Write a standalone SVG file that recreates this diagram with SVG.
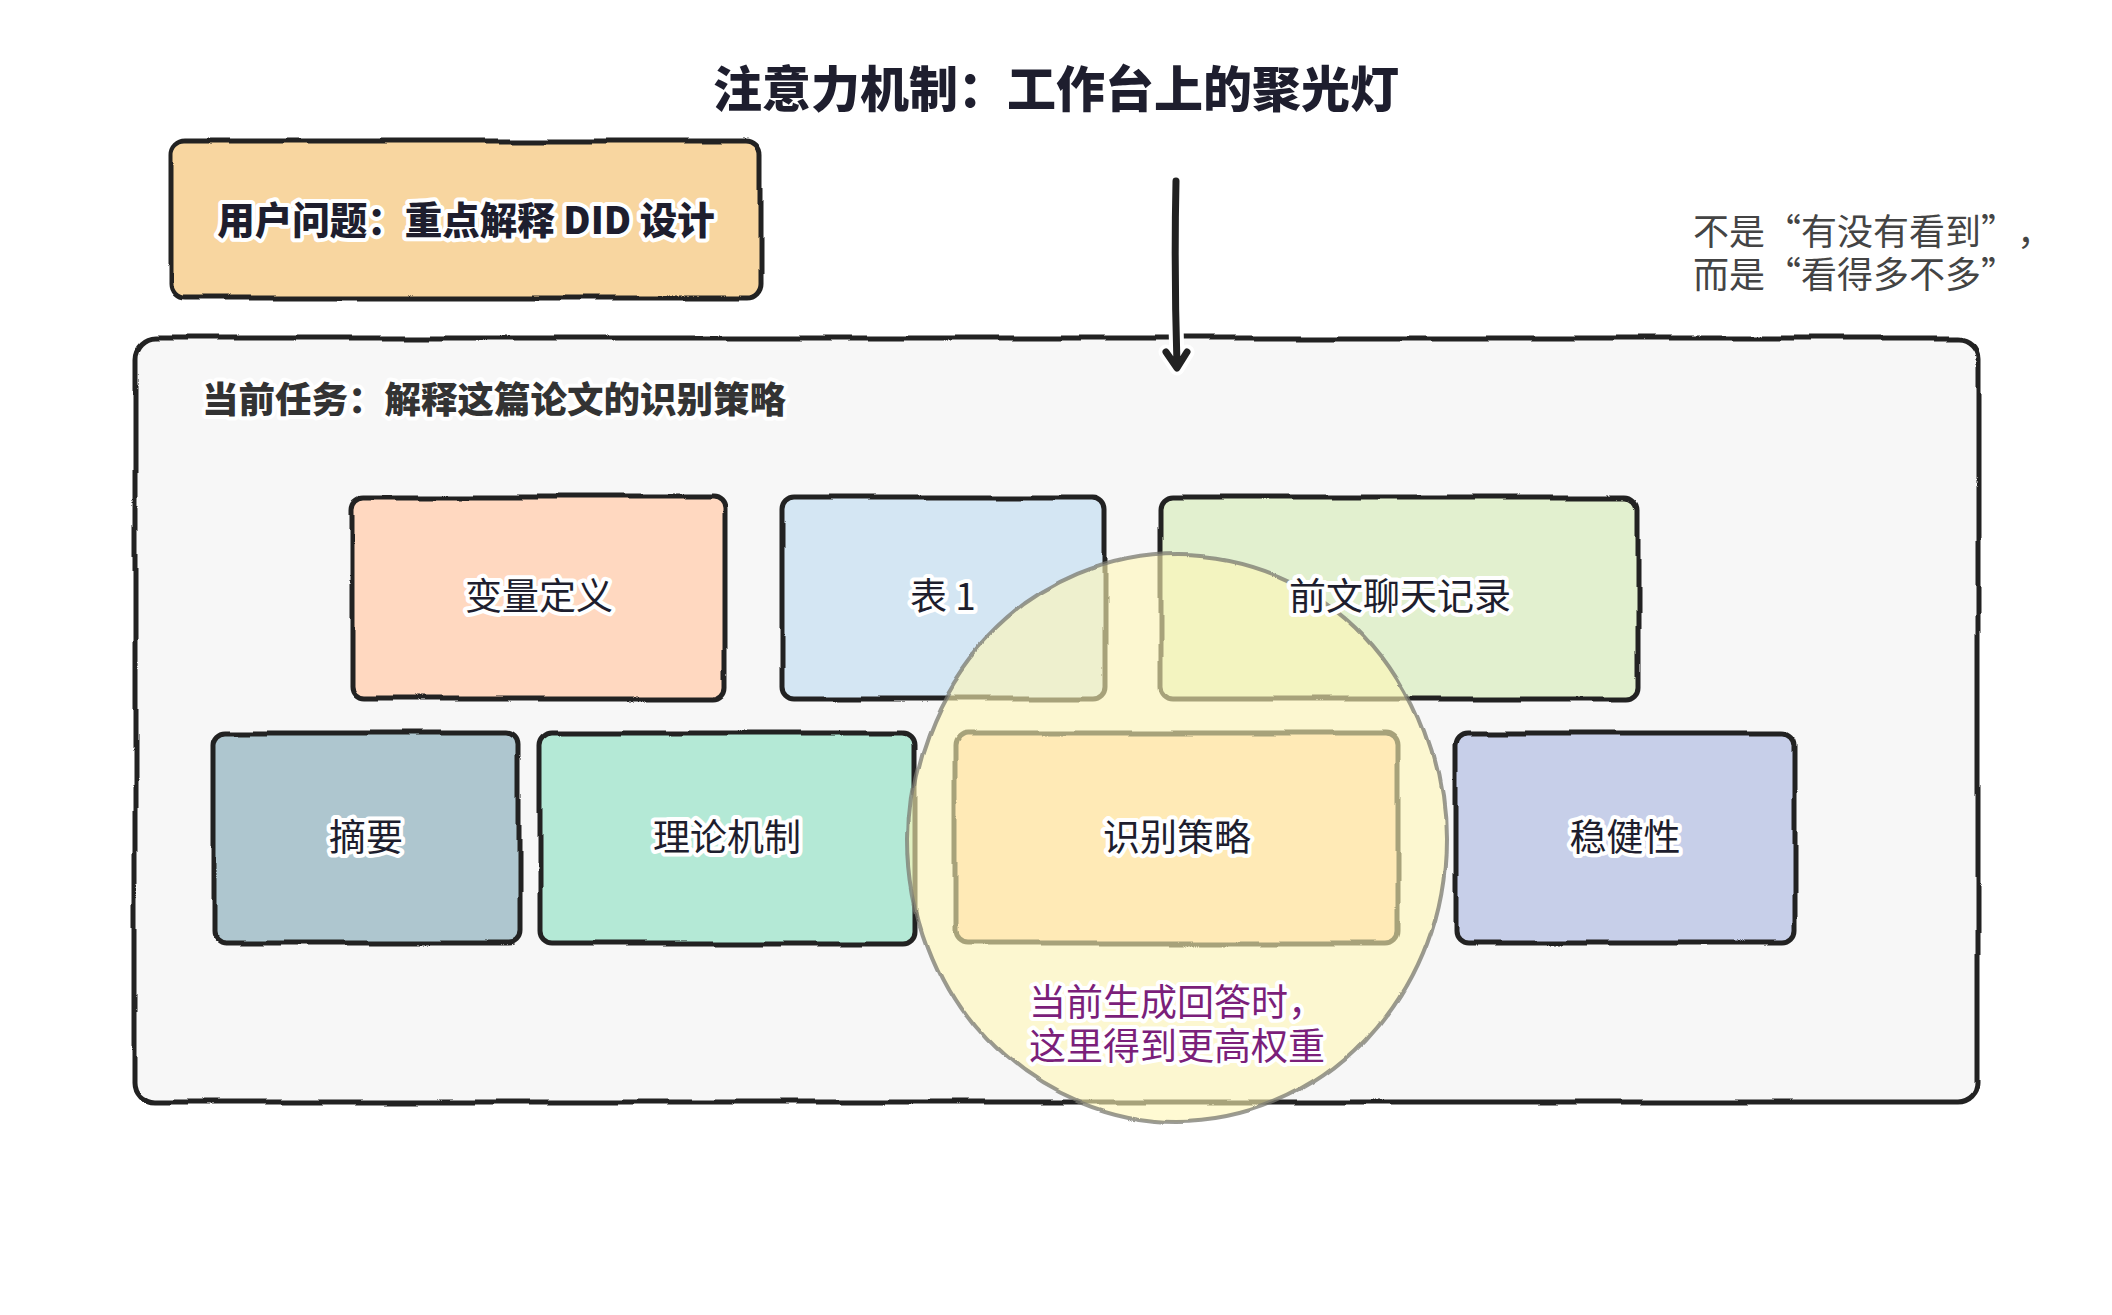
<svg xmlns="http://www.w3.org/2000/svg" xmlns:xlink="http://www.w3.org/1999/xlink" width="2112" height="1315" viewBox="0 0 2112 1315">
  <defs>
    <filter id="rough" filterUnits="userSpaceOnUse" x="0" y="0" width="2112" height="1315">
      <feTurbulence type="fractalNoise" baseFrequency="0.011" numOctaves="2" seed="4" result="n"/>
      <feDisplacementMap in="SourceGraphic" in2="n" scale="7" xChannelSelector="R" yChannelSelector="G"/>
    </filter>
    <filter id="rough2" filterUnits="userSpaceOnUse" x="0" y="0" width="2112" height="1315">
      <feTurbulence type="fractalNoise" baseFrequency="0.006" numOctaves="2" seed="9" result="n"/>
      <feDisplacementMap in="SourceGraphic" in2="n" scale="14" xChannelSelector="R" yChannelSelector="G"/>
    </filter>
    <style>
      .box { stroke: #222222; stroke-width: 5; stroke-linejoin: round; }
      .lbl { font-family: "Noto Sans CJK SC", "Noto Sans", sans-serif; font-size: 37px; fill: #1e1e2e; text-anchor: middle; dominant-baseline: central; stroke: #ffffff; stroke-width: 8; stroke-linejoin: round; paint-order: stroke; }
      .bold { font-weight: 900; }
      .title { font-family: "Noto Sans CJK SC", "Noto Sans", sans-serif; font-size: 49px; font-weight: 900; fill: #1e1e2e; text-anchor: middle; dominant-baseline: central; }
      .note { font-family: "Noto Sans CJK SC", "Noto Sans", sans-serif; font-size: 36px; fill: #444444; dominant-baseline: central; font-feature-settings: "fwid" 1; }
    </style>
  </defs>
  <rect width="2112" height="1315" fill="#ffffff"/>

  <text class="title" x="1056" y="85">注意力机制：工作台上的聚光灯</text>

  <g id="user-question">
    <rect class="box" x="171" y="141" width="589" height="157" rx="14" fill="#f8d6a0" filter="url(#rough)"/>
    <text class="lbl bold" x="466" y="217" style="font-size:37.5px">用户问题：重点解释 DID 设计</text>
  </g>

  <g id="note">
    <text class="note" x="1693" y="229">不是“有没有看到”<tspan dx="18">，</tspan></text>
    <text class="note" x="1693" y="272">而是“看得多不多”</text>
  </g>

  <g id="task-container">
    <rect class="box" x="135" y="338" width="1843" height="764" rx="20" fill="#f7f7f7" filter="url(#rough)"/>
    <text class="lbl bold" x="202" y="397" style="text-anchor:start;fill:#333333;font-size:36.5px">当前任务：解释这篇论文的识别策略</text>
  </g>

  <g id="node-bianliang">
    <rect class="box" x="352" y="497" width="373" height="202" rx="12" fill="#ffd8c0" filter="url(#rough)"/>
    <text class="lbl" x="539" y="594">变量定义</text>
  </g>
  <g id="node-biao1">
    <rect class="box" x="783" y="497" width="322" height="202" rx="12" fill="#d4e6f3" filter="url(#rough)"/>
    <text class="lbl" x="943" y="594">表 1</text>
  </g>
  <g id="node-qianwen">
    <rect class="box" x="1161" y="497" width="477" height="202" rx="12" fill="#e2f0cf" filter="url(#rough)"/>
    <text id="lbl-qianwen" class="lbl" x="1400" y="594">前文聊天记录</text>
  </g>
  <g id="node-zhaiyao">
    <rect class="box" x="214" y="733" width="305" height="210" rx="12" fill="#aec6cf" filter="url(#rough)"/>
    <text class="lbl" x="366" y="835">摘要</text>
  </g>
  <g id="node-lilun">
    <rect class="box" x="540" y="733" width="375" height="210" rx="12" fill="#b4e9d6" filter="url(#rough)"/>
    <text class="lbl" x="727" y="835">理论机制</text>
  </g>
  <g id="node-shibie">
    <rect class="box" x="955" y="733" width="443" height="210" rx="12" fill="#ffd8b8" filter="url(#rough)"/>
    <text id="lbl-shibie" class="lbl" x="1177" y="835">识别策略</text>
  </g>
  <g id="node-wenjian">
    <rect class="box" x="1456" y="733" width="338" height="210" rx="12" fill="#c7cfe9" filter="url(#rough)"/>
    <text class="lbl" x="1625" y="835">稳健性</text>
  </g>

  <g id="connectors">
    <g fill="none" stroke-linecap="round" stroke-linejoin="round">
      <path d="M1176 181 Q1174 270 1177 366 M1166 352 L1177 368 L1187 352" stroke="#ffffff" stroke-width="15"/>
      <path d="M1176 181 Q1174 270 1177 366 M1166 352 L1177 368 L1187 352" stroke="#222222" stroke-width="7"/>
    </g>
  </g>

  <g id="spotlight">
    <ellipse cx="1176" cy="838" rx="268" ry="284" fill="#fff7b5" fill-opacity="0.6" stroke="#7a7a70" stroke-opacity="0.75" stroke-width="4" filter="url(#rough2)"/>
    <use xlink:href="#lbl-qianwen"/>
    <use xlink:href="#lbl-shibie"/>
    <text class="lbl" x="1177" y="1000" style="fill:#7b1f7a">当前生成回答时，</text>
    <text class="lbl" x="1177" y="1044" style="fill:#7b1f7a">这里得到更高权重</text>
  </g>
</svg>
